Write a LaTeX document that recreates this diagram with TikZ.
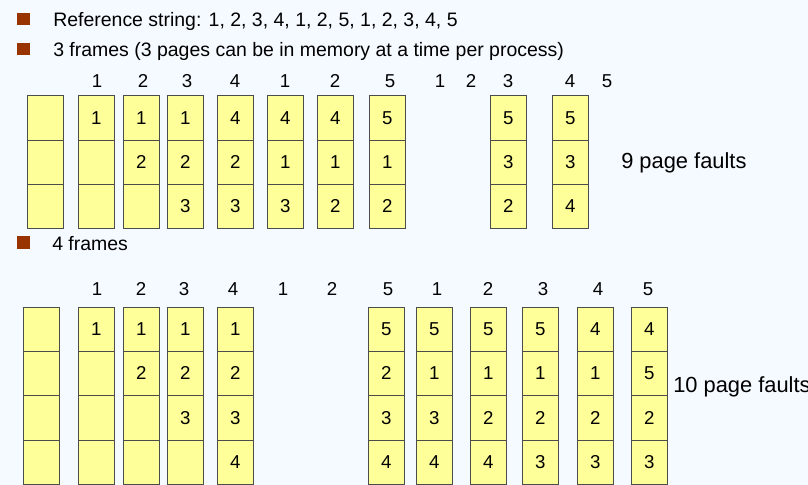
\documentclass[tikz,border=0pt]{standalone}
\usepackage{fontspec}
\setmainfont{Liberation Sans}
\usetikzlibrary{positioning}

\definecolor{pagebg}{HTML}{F4FAFF}
\definecolor{cellfill}{HTML}{FFFF99}
\definecolor{bulletred}{HTML}{993300}

\tikzset{
  cell/.style={draw=black!70, fill=cellfill, minimum width=27.5pt, minimum height=33.2pt,
    inner sep=0pt, outer sep=0pt, anchor=north west, font=\fontsize{14}{16}\selectfont},
  refnum/.style={anchor=base, inner sep=0pt, font=\fontsize{14}{16}\selectfont},
  txt/.style={anchor=base west, inner sep=0pt, font=\fontsize{14.6}{17}\selectfont},
  faults/.style={anchor=base west, inner sep=0pt, font=\fontsize{16.4}{19}\selectfont},
  bullet/.style={fill=bulletred, minimum size=9.5pt, inner sep=0pt},
}

\begin{document}
\begin{tikzpicture}[x=0.75pt, y=-0.75pt]
\useasboundingbox[fill=pagebg] (0,0) rectangle (808,485);

% bullets and text
\node[bullet] (b1) at (23.5,19) {};
\node[txt] (t1) at (53,27) {Reference string: 1, 2, 3, 4, 1, 2, 5, 1, 2, 3, 4, 5};
\node[bullet] (b2) at (23.5,49) {};
\node[txt] (t2) at (53,57) {3 frames (3 pages can be in memory at a time per process)};
\node[bullet] (b3) at (23.5,242.5) {};
\node[txt] (t3) at (52,250) {4 frames};

% 3 frames
\foreach \x/\n [count=\i] in {97/1, 143/2, 187/3, 235/4, 285/1, 335/2, 390/5, 440/1, 471/2, 508/3, 570/4, 607/5}
  \node[refnum] (r1-\i) at (\x,88) {\n};

\foreach \x/\a/\b/\c [count=\i] in {27/{}/{}/{}, 78/1/{}/{}, 123/1/2/{}, 167/1/2/3, 217/4/2/3,
    267/4/1/3, 317/4/1/2, 369/5/1/2, 490/5/3/2, 552/5/3/4} {
  \node[cell] (a\i-1) at (\x,95.7) {\a};
  \node[cell, below=0pt of a\i-1] (a\i-2) {\b};
  \node[cell, below=0pt of a\i-2] (a\i-3) {\c};
}
\node[faults] (f1) at (621,169) {9 page faults};

% 4 frames
\foreach \x/\n [count=\i] in {97/1, 141/2, 184/3, 233/4, 283/1, 332/2, 388/5, 437/1, 488/2, 543/3, 598/4, 648/5}
  \node[refnum] (r2-\i) at (\x,295) {\n};

\foreach \x/\a/\b/\c/\d [count=\i] in {23/{}/{}/{}/{}, 78/1/{}/{}/{}, 123/1/2/{}/{}, 167/1/2/3/{},
    217/1/2/3/4, 368/5/2/3/4, 416/5/1/3/4, 470/5/1/2/4, 522/5/1/2/3, 577/4/1/2/3, 631/4/5/2/3} {
  \node[cell] (c\i-1) at (\x,307) {\a};
  \node[cell, below=0pt of c\i-1] (c\i-2) {\b};
  \node[cell, below=0pt of c\i-2] (c\i-3) {\c};
  \node[cell, below=0pt of c\i-3] (c\i-4) {\d};
}
\node[faults] (f2) at (673,392) {10 page faults};
\end{tikzpicture}
\end{document}
